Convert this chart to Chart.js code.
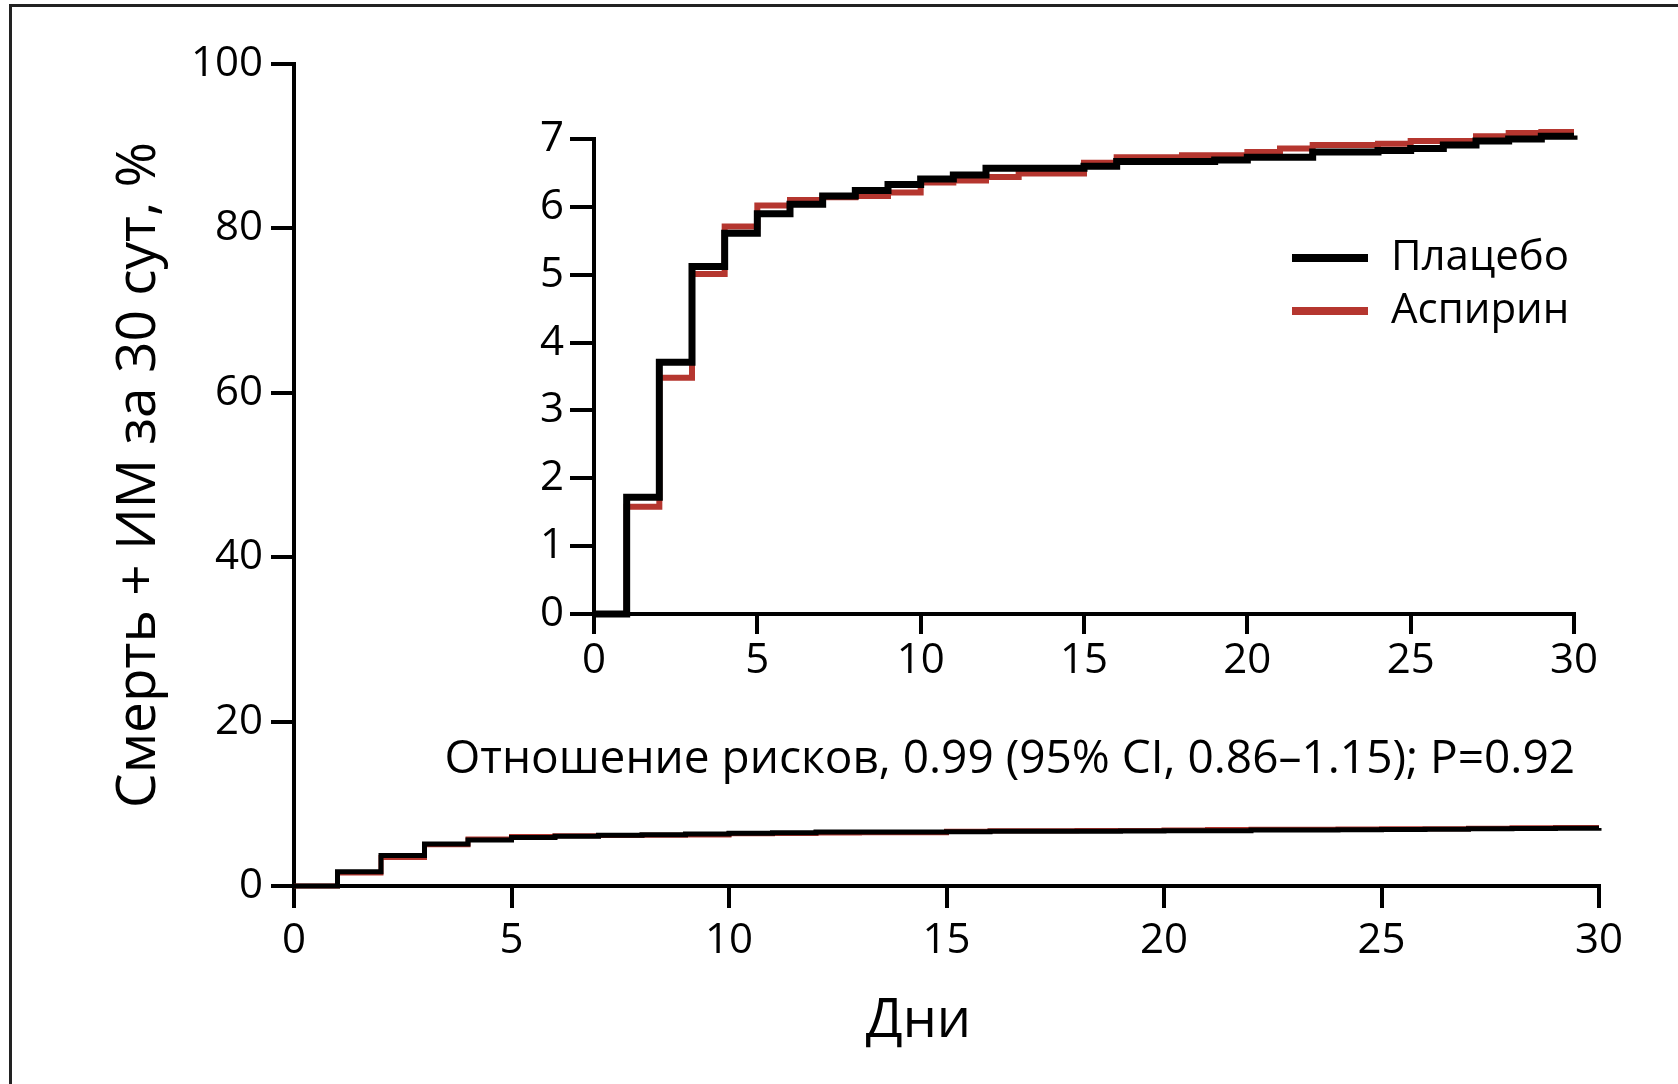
<!DOCTYPE html>
<html>
<head>
<meta charset="utf-8">
<script src="https://cdn.jsdelivr.net/npm/chart.js@4.4.1/dist/chart.umd.min.js"></script>
<style>
  body { margin: 0; background: #fff; }
  #page { position: relative; width: 1678px; height: 1084px; overflow: hidden; background: #fff; }
  #frame { position: absolute; left: 9px; top: 4px; width: 1720px; height: 1200px; border-top: 3px solid #222; border-left: 3px solid #222; }
  #mainChart { position: absolute; left: 0; top: 0; }
  #insetChart { position: absolute; left: 480px; top: 100px; }
</style>
</head>
<body>
<div id="page">
  <div id="frame"></div>
  <canvas id="mainChart" width="1678" height="1084"></canvas>
  <canvas id="insetChart" width="1160" height="620"></canvas>
</div>
<script>
// days at which the cumulative curve steps, and the value held from that day on (%)
const days = [0, 1, 2, 3, 4, 5, 6, 7, 8, 9, 10, 11, 12, 13, 14, 15, 16, 17, 18, 19, 20, 21, 22, 23, 24, 25, 26, 27, 28, 29, 30];
const placebo = [0, 1.72, 3.71, 5.12, 5.61, 5.90, 6.04, 6.16, 6.24, 6.33, 6.41, 6.47, 6.57, 6.57, 6.57, 6.60, 6.67, 6.67, 6.67, 6.69, 6.73, 6.73, 6.81, 6.81, 6.83, 6.86, 6.91, 6.97, 7.00, 7.04, 7.05];
const aspirin = [0, 1.58, 3.48, 5.01, 5.71, 6.02, 6.10, 6.14, 6.16, 6.21, 6.36, 6.39, 6.44, 6.49, 6.49, 6.65, 6.73, 6.73, 6.76, 6.76, 6.81, 6.86, 6.91, 6.91, 6.93, 6.97, 6.97, 7.04, 7.09, 7.12, 7.12];
const seriesNames = ['Плацебо', 'Аспирин'];
const seriesColors = ['#000000', '#b5362f'];

const mainTicks = { min: 0, max: 100, step: 20 };
const insetTicks = { min: 0, max: 7, step: 1 };
const dayTicks = { min: 0, max: 30, step: 5 };
const noteText = 'Отношение рисков, 0.99 (95% CI, 0.86–1.15); P=0.92';

const FONT = "'Open Sans', 'Noto Sans', sans-serif";

function points(values) {
  return days.map(function(d, i) { return { x: d, y: values[i] }; });
}

function makeDatasets(widths) {
  return [placebo, aspirin].map(function(vals, i) {
    return {
      label: seriesNames[i],
      data: points(vals),
      borderColor: seriesColors[i],
      borderWidth: widths[i],
      stepped: 'before',
      pointRadius: 0,
      fill: false,
      clip: 10,
      borderCapStyle: 'butt'
    };
  });
}

function axis(range, opts) {
  return {
    type: 'linear',
    min: range.min,
    max: range.max,
    ticks: {
      stepSize: range.step,
      font: { family: FONT, size: opts.fontSize },
      color: '#000',
      padding: opts.pad
    },
    grid: { drawOnChartArea: false, tickLength: opts.tickLen, lineWidth: 4, color: '#000' },
    border: { display: true, width: 4, color: '#000' },
    title: opts.title || { display: false },
    afterFit: opts.fit
  };
}

// note under the inset, drawn by the main chart
const notePlugin = {
  id: 'note',
  afterDraw: function(chart) {
    const ctx = chart.ctx;
    ctx.save();
    ctx.font = '46px ' + FONT;
    ctx.fillStyle = '#000';
    ctx.textAlign = 'right';
    ctx.textBaseline = 'middle';
    ctx.fillText(noteText, 1575, 760);
    ctx.restore();
  }
};

// legend with short thick lines inside the inset plot
const lineLegend = {
  id: 'lineLegend',
  afterDraw: function(chart) {
    const ctx = chart.ctx;
    const a = chart.chartArea;
    ctx.save();
    chart.data.datasets.forEach(function(ds, i) {
      const y = a.top + 119 + i * 53;
      const x0 = a.right - 282;
      ctx.strokeStyle = ds.borderColor;
      ctx.lineWidth = 8;
      ctx.beginPath();
      ctx.moveTo(x0, y);
      ctx.lineTo(x0 + 76, y);
      ctx.stroke();
      ctx.font = '42px ' + FONT;
      ctx.fillStyle = '#000';
      ctx.textAlign = 'left';
      ctx.textBaseline = 'middle';
      ctx.fillText(ds.label, x0 + 99, y);
    });
    ctx.restore();
  }
};

const mainChart = new Chart(document.getElementById('mainChart'), {
  type: 'line',
  data: { datasets: makeDatasets([5, 5]) },
  options: {
    responsive: false,
    animation: false,
    devicePixelRatio: 1,
    layout: { padding: { left: 0, top: 64, right: 79, bottom: 0 } },
    plugins: { legend: { display: false }, tooltip: { enabled: false } },
    scales: {
      x: axis(dayTicks, {
        fontSize: 42, pad: 8, tickLen: 22,
        // trailing spaces nudge the centred title a little to the left, as in the original
        title: { display: true, text: 'Дни    ', color: '#000', font: { family: FONT, size: 54 }, padding: { top: 0, bottom: 30 } },
        fit: function(s) { s.height = 198; }
      }),
      y: axis(mainTicks, {
        fontSize: 42, pad: 8, tickLen: 23,
        title: { display: true, text: 'Смерть + ИМ за 30 сут, %', color: '#000', font: { family: FONT, size: 55 }, padding: { top: 106, bottom: 0 } },
        fit: function(s) { s.width = 294; }
      })
    }
  },
  plugins: [notePlugin]
});

const insetChart = new Chart(document.getElementById('insetChart'), {
  type: 'line',
  data: { datasets: makeDatasets([7, 6]) },
  options: {
    responsive: false,
    animation: false,
    devicePixelRatio: 1,
    layout: { padding: { left: 0, top: 39, right: 66, bottom: 0 } },
    plugins: { legend: { display: false }, tooltip: { enabled: false } },
    scales: {
      x: axis(dayTicks, {
        fontSize: 42, pad: 2, tickLen: 20,
        fit: function(s) { s.height = 106; }
      }),
      y: axis(insetTicks, {
        fontSize: 42, pad: 6, tickLen: 24,
        fit: function(s) { s.width = 114; }
      })
    }
  },
  plugins: [lineLegend]
});
</script>
</body>
</html>
